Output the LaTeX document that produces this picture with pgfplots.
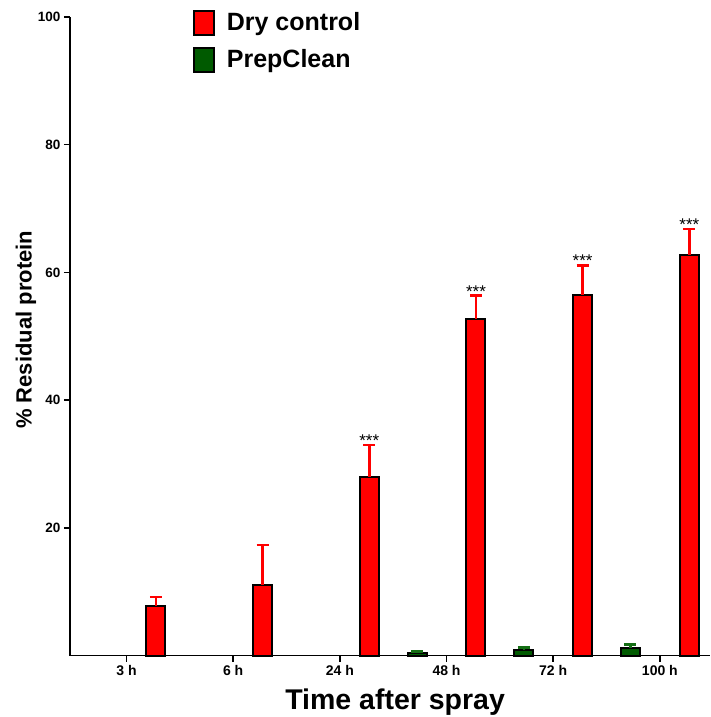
\documentclass[border=0pt]{standalone}
\usepackage{pgfplots}
\pgfplotsset{compat=1.18}
\usepackage{fontspec}
\setmainfont{Liberation Sans}
\usetikzlibrary{calc}
\definecolor{barred}{RGB}{255,0,0}
\definecolor{bargreen}{RGB}{0,90,0}
\definecolor{errgreen}{RGB}{20,110,20}
\begin{document}
\begin{tikzpicture}
\begin{axis}[
  name=ax,
  scale only axis, width=640pt, height=638.5pt,
  xmin=-0.53, xmax=5.47, ymin=0, ymax=100,
  axis lines*=left,
  axis line style={line width=1.6pt, black},
  xtick={0,...,5}, xticklabels={3 h,6 h,24 h,48 h,72 h,100 h},
  ytick={20,40,60,80,100},
  tick align=outside, major tick length=6pt,
  tick style={line width=1.6pt, black},
  /pgf/number format/assume math mode=true,
  xticklabel style={font=\fontsize{14}{14}\selectfont\bfseries},
  yticklabel style={font=\fontsize{13.5}{13.5}\selectfont\bfseries},
  xlabel={Time after spray},
  ylabel={\% Residual protein},
  xlabel style={font=\fontsize{28.5}{30}\selectfont\bfseries, at={(rel axis cs:0.508,-0.0838)}, anchor=base},
  ylabel style={font=\fontsize{22}{24}\selectfont\bfseries, at={(rel axis cs:-0.06875,0.51)}, anchor=center},
  legend style={at={(rel axis cs:0.1917,1.0105)}, anchor=north west, draw=none, fill=none,
    font=\fontsize{25}{25}\selectfont\bfseries, row sep=10.5pt, inner sep=0pt, column sep=0pt},
  legend cell align=left,
  reverse legend,
  clip=false,
]
% PrepClean
\addplot[ybar, bar width=19pt, bar shift=0pt, fill=bargreen, draw=black, line width=2pt,
  legend image code/.code={\draw[fill=bargreen, draw=black, line width=2pt] (0pt,-13pt) rectangle (20pt,11pt); \path (30pt,0pt);},
  error bars/.cd, y dir=plus, y explicit,
  error bar style={line width=2.5pt, errgreen},
  error mark options={rotate=90, errgreen, mark size=6pt, line width=2.5pt}]
  coordinates {(2.724,0.35) +- (0,0.25) (3.724,0.86) +- (0,0.43) (4.724,1.13) +- (0,0.63)};
\addlegendentry{PrepClean}
% Dry control
\addplot[ybar, bar width=19pt, bar shift=0pt, fill=barred, draw=black, line width=2pt,
  legend image code/.code={\draw[fill=barred, draw=black, line width=2pt] (0pt,-13pt) rectangle (20pt,11pt); \path (30pt,0pt);},
  error bars/.cd, y dir=plus, y explicit,
  error bar style={line width=2.5pt, barred},
  error mark options={rotate=90, barred, mark size=6pt, line width=2.5pt}]
  coordinates {(0.276,7.76) +- (0,1.44) (1.276,11.0) +- (0,6.3) (2.276,28.0) +- (0,5.0)
               (3.276,52.7) +- (0,3.7) (4.276,56.5) +- (0,4.6) (5.276,62.8) +- (0,4.0)};
\addlegendentry{Dry control}
% significance stars
\addplot[forget plot, draw=none, mark=none, nodes near coords={***},
  nodes near coords style={anchor=base, yshift=-2pt, font=\fontsize{17}{17}\selectfont, black}]
  coordinates {(2.276,33.0) (3.276,56.4) (4.276,61.3) (5.276,66.8)};
\end{axis}
\pgfresetboundingbox
\path ($(ax.south west)+(-70pt,-61.5pt)$) rectangle +(710pt,717pt);
\end{tikzpicture}
\end{document}
